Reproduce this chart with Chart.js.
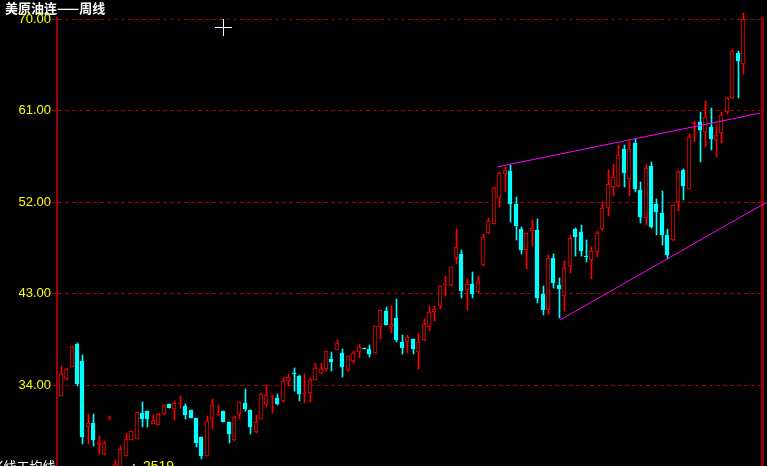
<!DOCTYPE html>
<html><head><meta charset="utf-8">
<script src="https://cdn.jsdelivr.net/npm/chart.js@4/dist/chart.umd.min.js"></script>
<style>html,body{margin:0;padding:0;background:#000;overflow:hidden}canvas{display:block}</style>
</head><body>
<canvas id="c" width="767" height="466"></canvas>
<script>
const chartTitle = '美原油连——周线';
const yTicks = [34, 43, 52, 61, 70];
const opens = [32.9,34.6,35.8,38.1,36.4,29.9,30.3,28.15,27.2,30.75,
25.8,26.0,27.0,28.65,28.7,31.25,31.45,30.2,30.1,31.2,
32.15,31.7,32.2,31.95,31.55,30.8,28.9,27.05,30.7,31.05,
31.45,30.4,28.6,31.2,32.25,31.55,29.4,30.7,32.15,32.85,
32.8,32.45,34.4,35.2,34.9,33.15,33.25,34.55,35.25,35.6,
36.55,37.5,37.15,35.55,36.35,37.25,37.7,37.55,37.2,39.7,
41.3,39.7,40.6,38.25,38.25,38.55,37.25,38.45,39.7,41.2,
41.85,43.85,43.85,46.5,46.9,43.35,44.0,43.15,45.8,48.95,
49.9,52.45,54.8,55.1,51.85,49.4,47.3,49.2,49.3,42.95,
41.4,46.55,43.9,42.75,45.7,49.4,49.1,46.7,46.35,47.1,
49.35,51.4,53.55,53.65,57.25,54.3,57.85,53.25,50.45,55.6,
51.85,50.95,48.75,48.25,52.05,55.2,53.35,59.75,59.9,58.95,
59.45,58.1,58.85,60.85,62.3,66.7,65.65];
const highs = [35.9,35.7,37.9,38.2,37.0,31.2,31.2,29.0,28.5,31.0,
26.7,28.0,29.3,29.5,31.4,32.35,31.5,31.1,31.3,32.1,
32.2,32.45,32.95,32.15,31.6,30.8,28.9,31.0,32.65,32.05,
31.5,30.4,30.95,32.4,33.6,31.6,31.05,33.2,34.0,33.05,
33.1,34.8,35.1,35.7,35.0,35.1,34.7,36.2,36.15,37.4,
37.3,38.5,37.55,36.9,37.35,38.05,37.7,37.95,39.85,41.45,
41.7,41.85,42.45,38.9,38.9,38.55,39.1,40.5,41.85,41.85,
43.8,44.8,45.65,49.4,47.3,44.5,45.1,44.8,48.85,50.5,
53.5,55.0,55.5,55.7,52.55,49.6,49.0,50.3,50.4,43.8,
46.85,46.95,44.6,46.2,48.75,49.45,49.8,48.25,47.6,49.2,
52.05,55.2,55.8,57.65,57.6,58.05,58.2,54.0,55.8,56.0,
52.35,53.15,49.4,51.75,55.2,55.25,58.7,60.0,60.9,62.0,
61.3,59.55,60.9,62.35,67.05,66.9,70.6];
const lows = [32.9,34.5,35.8,33.9,28.2,28.2,28.0,27.2,27.1,30.55,
25.5,25.8,27.0,28.6,28.7,29.9,29.9,30.2,30.1,31.1,
31.75,30.6,31.8,30.7,30.75,27.95,26.75,27.0,29.7,31.0,
30.4,28.3,28.55,30.7,31.45,29.2,29.35,30.65,31.85,31.3,
32.1,32.4,33.9,33.4,32.45,32.25,32.35,34.5,35.15,35.4,
35.4,37.45,34.8,35.4,36.15,36.65,37.6,36.75,37.15,38.6,
39.9,39.1,38.3,37.05,37.15,37.05,35.6,38.4,39.3,40.3,
41.55,42.75,43.8,45.95,42.55,41.4,42.55,43.1,45.75,48.9,
49.85,51.5,53.05,50.1,48.3,46.95,45.4,47.75,42.05,40.9,
40.9,43.55,40.6,41.3,45.0,46.75,46.75,46.1,44.5,46.6,
49.15,50.7,52.6,53.5,53.5,52.6,53.0,49.95,49.75,49.5,
48.75,47.85,46.45,48.15,51.1,52.2,53.3,57.9,55.95,57.4,
57.15,56.5,57.8,60.7,62.25,62.3,64.65];
const closes = [35.1,35.6,37.8,34.1,28.9,30.3,28.6,28.35,28.35,30.8,
26.3,27.75,28.75,29.5,31.35,30.7,30.7,30.5,31.15,32.05,
31.8,32.25,32.3,31.1,30.8,28.35,27.05,30.5,32.05,31.1,
30.4,29.2,30.9,32.35,31.65,29.9,30.4,33.1,33.0,32.95,
32.15,34.4,34.8,35.1,33.1,33.25,34.5,35.7,35.65,37.35,
36.25,38.15,35.8,36.85,37.15,37.75,37.6,37.1,39.8,41.4,
39.9,40.0,38.5,37.65,38.75,37.55,38.25,40.0,41.2,41.5,
43.75,44.0,45.6,47.65,43.25,44.0,42.95,44.2,48.55,50.2,
53.45,54.9,55.2,51.8,49.7,47.35,48.95,49.5,42.55,41.4,
46.55,44.1,43.45,45.5,48.45,48.55,47.25,46.65,47.25,49.0,
51.4,53.8,54.5,56.65,54.9,57.25,53.35,50.55,55.4,49.55,
51.0,48.75,46.85,51.7,55.0,53.65,58.4,59.85,59.15,60.4,
58.25,58.65,60.6,62.25,66.85,65.9,70.0];
const weeks = opens.map((_, i) => i);
const upperTrendX = [80.6, 129.1];
const upperTrendY = [55.48, 60.76];
const lowerTrendX = [92.2, 130.45];
const lowerTrendY = [40.42, 52.03];
const footerLabel = 'K线工均线';
const footerValue = '2519';

const RED = '#ff0000', CYAN = '#00ffff', MAGENTA = '#ff00ff', GRID = '#a00000';
const isUp = weeks.map(i => closes[i] >= opens[i]);

const snapPlugin = {
  id: 'snap',
  afterDatasetsUpdate(chart) {
    chart.data.datasets.forEach((ds, di) => {
      if (ds.type === 'line') return;
      const wick = ds.label === 'wick';
      chart.getDatasetMeta(di).data.forEach(el => {
        const L = Math.round(el.x - 2);
        el.x = wick ? L + 2.5 : L + 2;
        const y = Math.round(el.y);
        let b = Math.round(el.base);
        if (Math.abs(y - b) < 1) b = y + 1;
        el.y = y; el.base = b;
      });
    });
  }
};

const overlayPlugin = {
  id: 'overlay',
  afterDraw(chart) {
    const ctx = chart.ctx;
    ctx.save();
    ctx.fillStyle = '#ffffff';
    ctx.font = 'bold 13px "Noto Sans CJK SC", sans-serif';
    ctx.textBaseline = 'middle';
    ctx.textAlign = 'left';
    ctx.fillText(chartTitle, 5, 8);
    // cursor cross
    ctx.strokeStyle = '#ffffff';
    ctx.lineWidth = 1;
    ctx.beginPath();
    ctx.moveTo(215, 27.5); ctx.lineTo(232, 27.5);
    ctx.moveTo(223.5, 19); ctx.lineTo(223.5, 36);
    ctx.stroke();
    // cut-off footer row
    ctx.textBaseline = 'top';
    ctx.font = '13px "Noto Sans CJK SC", sans-serif';
    ctx.fillText(footerLabel, -5, 460);
    ctx.fillText(':', 132, 460);
    ctx.fillStyle = '#ffff00';
    ctx.font = '14px "Liberation Sans", sans-serif';
    ctx.fillText(footerValue, 143, 460);
    ctx.restore();
  }
};

new Chart(document.getElementById('c'), {
  type: 'bar',
  data: {
    datasets: [
      {
        type: 'line', label: 'upper', order: -1,
        data: upperTrendX.map((x, k) => ({x, y: upperTrendY[k]})),
        borderColor: MAGENTA, borderWidth: 1, pointRadius: 0, tension: 0
      },
      {
        type: 'line', label: 'lower', order: -1, clip: false,
        data: lowerTrendX.map((x, k) => ({x, y: lowerTrendY[k]})),
        borderColor: MAGENTA, borderWidth: 1, pointRadius: 0, tension: 0
      },
      {
        label: 'body', order: 0, grouped: false, barThickness: 4,
        data: weeks.map(i => ({x: i, y: [opens[i], closes[i]]})),
        backgroundColor: weeks.map(i => isUp[i] ? '#000000' : CYAN),
        borderColor: weeks.map(i => isUp[i] ? RED : CYAN),
        borderWidth: 1, borderSkipped: false, minBarLength: 1
      },
      {
        label: 'wick', order: 1, grouped: false, barThickness: 1, clip: false,
        data: weeks.map(i => ({x: i, y: [lows[i], highs[i]]})),
        backgroundColor: weeks.map(i => isUp[i] ? RED : CYAN),
        borderWidth: 0, borderSkipped: false, minBarLength: 1
      }
    ]
  },
  options: {
    responsive: false,
    animation: false,
    devicePixelRatio: 1,
    layout: { padding: { top: 18, left: 0, right: 0, bottom: 0 } },
    plugins: { legend: { display: false }, tooltip: { enabled: false } },
    scales: {
      x: { type: 'linear', display: false, min: -0.683, max: 129.51, offset: false },
      y: {
        position: 'left', min: 26.064, max: 70.128,
        afterBuildTicks: s => { s.ticks = yTicks.map(v => ({value: v})); },
        afterFit: s => { s.width = 57; s.paddingTop = 0; s.paddingBottom = 0; },
        ticks: { color: '#ffff00', font: { family: 'Liberation Sans', size: 13 }, padding: 1, autoSkip: false,
                 callback: v => Number(v).toFixed(2) },
        grid: { color: GRID, lineWidth: 1, tickLength: 5, tickColor: GRID, borderDash: [4, 3] },
        border: { color: GRID, width: 2, dash: [4, 3] }
      },
      y2: {
        position: 'right', min: 0, max: 1,
        afterFit: s => { s.width = 5; s.paddingTop = 0; s.paddingBottom = 0; },
        ticks: { display: false },
        grid: { drawOnChartArea: false, drawTicks: false },
        border: { color: '#900000', width: 3 }
      }
    }
  },
  plugins: [snapPlugin, overlayPlugin]
});
</script>
</body></html>
